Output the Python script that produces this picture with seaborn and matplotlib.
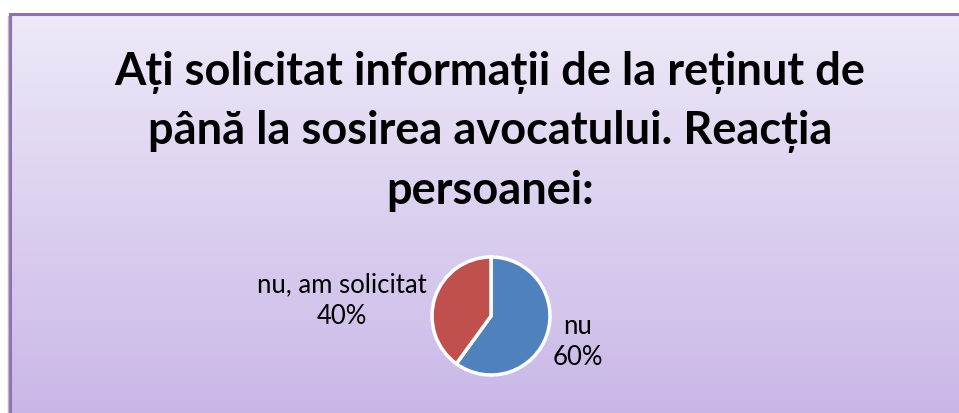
import numpy as np
import matplotlib
matplotlib.use("Agg")
import matplotlib.pyplot as plt
import seaborn as sns

sns.set_theme(style="white")
plt.rcParams['font.family'] = ['Lato', 'DejaVu Sans']

title_lines = ["Ați solicitat informații de la reținut de",
               "până la sosirea avocatului. Reacția",
               "persoanei:"]
categories = ["nu", "nu, am solicitat"]
values = [60, 40]
colors = ["#4F81BD", "#C0504D"]

W, H = 959, 414
fig = plt.figure(figsize=(W / 100, H / 100), dpi=100)
fig.patch.set_facecolor("white")
ax = fig.add_axes([0, 0, 1, 1])
ax.set_facecolor("white")

cx, cy, r = 491, 317, 59
# y axis is inverted, so start at -90 and go counterclockwise in data space
wedges, _ = ax.pie(values, colors=colors, startangle=-90, counterclock=True,
                   center=(cx, cy), radius=r, frame=False,
                   wedgeprops=dict(edgecolor="white", linewidth=2.5))
for w in wedges:
    w.set_zorder(2)
ax.set_aspect("auto")
for s in ax.spines.values():
    s.set_visible(False)
ax.set_xticks([])
ax.set_yticks([])

# chart-area gradient drawn as thin horizontal bands
top = np.array([0xEE, 0xE8, 0xF8]) / 255
bot = np.array([0xC8, 0xB7, 0xE6]) / 255
y0, y1 = 15, H + 2
n = 200
edges = np.linspace(y0, y1, n + 1)
for k in range(n):
    f = k / (n - 1)
    col = top * (1 - f) + bot * f
    ax.fill_between([10, W + 30], edges[k], edges[k + 1] + 0.6,
                    color=col, linewidth=0, zorder=0)
ax.set_xlim(0, W)
ax.set_ylim(H, 0)
ax.plot([10, W + 20], [15, 15], color="#8E70B8", lw=2.2, zorder=1,
        solid_capstyle="projecting")
ax.plot([10, 10], [15, H + 20], color="#8E70B8", lw=2.2, zorder=1,
        solid_capstyle="projecting")
ax.plot([8.3, 8.3], [17, H], color="#b8b8b8", lw=1, zorder=1)

for i, line in enumerate(title_lines):
    ax.text(490, 73 + i * 59, line, ha="center", va="center",
            fontsize=32.5, fontweight="bold", color="black", zorder=3)

ax.text(342, 301, f"{categories[1]}\n{values[1]}%", ha="center", va="center",
        fontsize=18.5, color="black", linespacing=1.32, zorder=3)
ax.text(578, 342, f"{categories[0]}\n{values[0]}%", ha="center", va="center",
        fontsize=18.5, color="black", linespacing=1.32, zorder=3)

fig.savefig("out.png", dpi=100)
